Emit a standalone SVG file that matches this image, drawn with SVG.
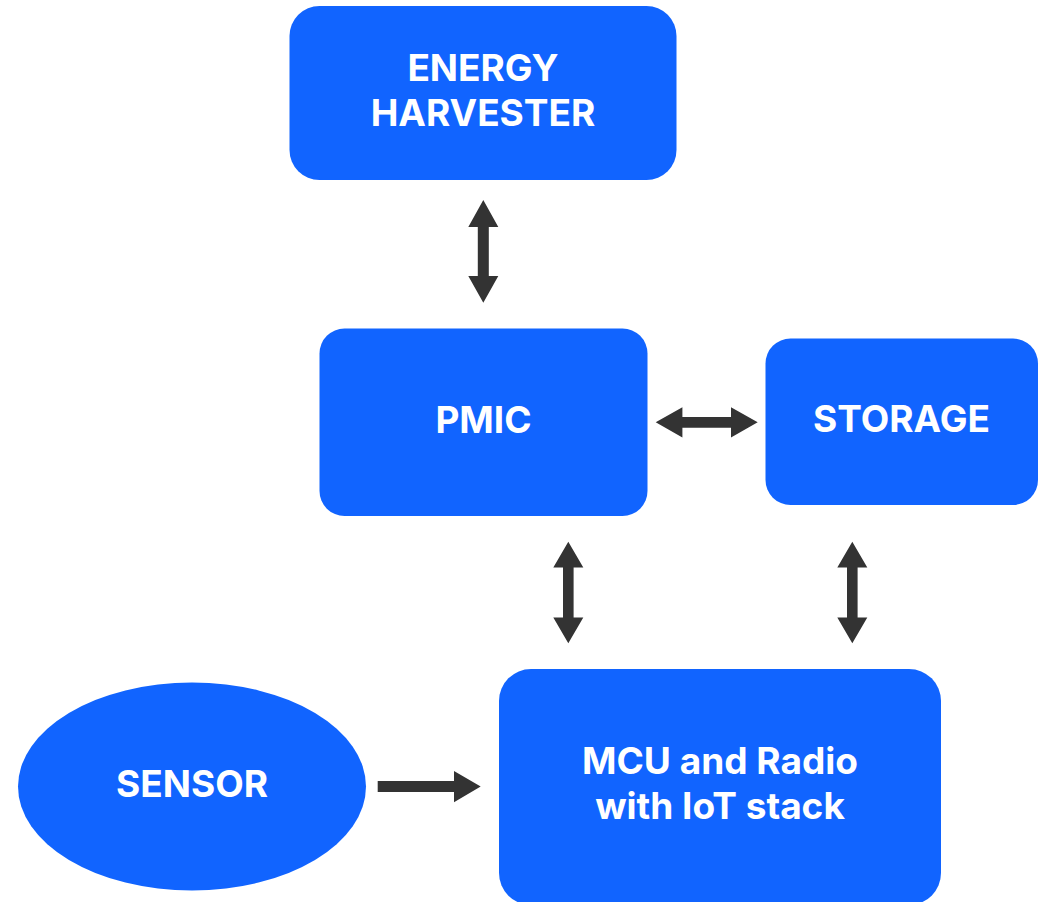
<svg xmlns="http://www.w3.org/2000/svg" width="1043" height="902" viewBox="0 0 1043 902">
<defs>
<style>
.node{fill:#1164FF;}
.lbl{fill:#FFFFFF;font-family:Inter,"Liberation Sans",sans-serif;font-weight:700;font-size:37px;text-anchor:middle;}
.arr{fill:#333333;}
</style>
</defs>
<rect width="1043" height="902" fill="#FFFFFF"/>
<g id="energy-harvester">
<rect class="node" x="289.5" y="6" width="387" height="174" rx="30"/>
<text class="lbl" x="483" y="81">ENERGY</text>
<text class="lbl" x="483" y="125.5">HARVESTER</text>
</g>
<g id="pmic">
<rect class="node" x="319.5" y="328.5" width="328" height="187.5" rx="25"/>
<text class="lbl" x="483.5" y="432.5">PMIC</text>
</g>
<g id="storage">
<rect class="node" x="765.5" y="338.5" width="272.5" height="166.5" rx="25"/>
<text class="lbl" x="901.5" y="431.5">STORAGE</text>
</g>
<g id="sensor">
<ellipse class="node" cx="192" cy="786.5" rx="174" ry="104"/>
<text class="lbl" x="192" y="797.3">SENSOR</text>
</g>
<g id="mcu">
<rect class="node" x="499" y="669" width="442" height="236" rx="32"/>
<text class="lbl" x="720" y="774.3">MCU and Radio</text>
<text class="lbl" x="720" y="819.3">with IoT stack</text>
</g>
<g id="connectors">
<polygon class="arr" points="483.3,200 498.3,227 488.8,227 488.8,276 498.3,276 483.3,302.7 468.3,276 477.8,276 477.8,227 468.3,227"/>
<polygon class="arr" points="655.7,422.3 682.4,407.3 682.4,417 731,417 731,407.3 757.7,422.3 731,437.5 731,427.7 682.4,427.7 682.4,437.5"/>
<polygon class="arr" points="568.3,541.7 583.3,567.5 573.6,567.5 573.6,617.5 583.3,617.5 568.3,643.3 553.3,617.5 563,617.5 563,567.5 553.3,567.5"/>
<polygon class="arr" points="852.3,541.7 867.3,567.5 857.6,567.5 857.6,617.5 867.3,617.5 852.3,643.3 837.3,617.5 847,617.5 847,567.5 837.3,567.5"/>
<polygon class="arr" points="377.7,781 454,781 454,771 480.7,786.5 454,802.3 454,792 377.7,792"/>
</g>
</svg>
